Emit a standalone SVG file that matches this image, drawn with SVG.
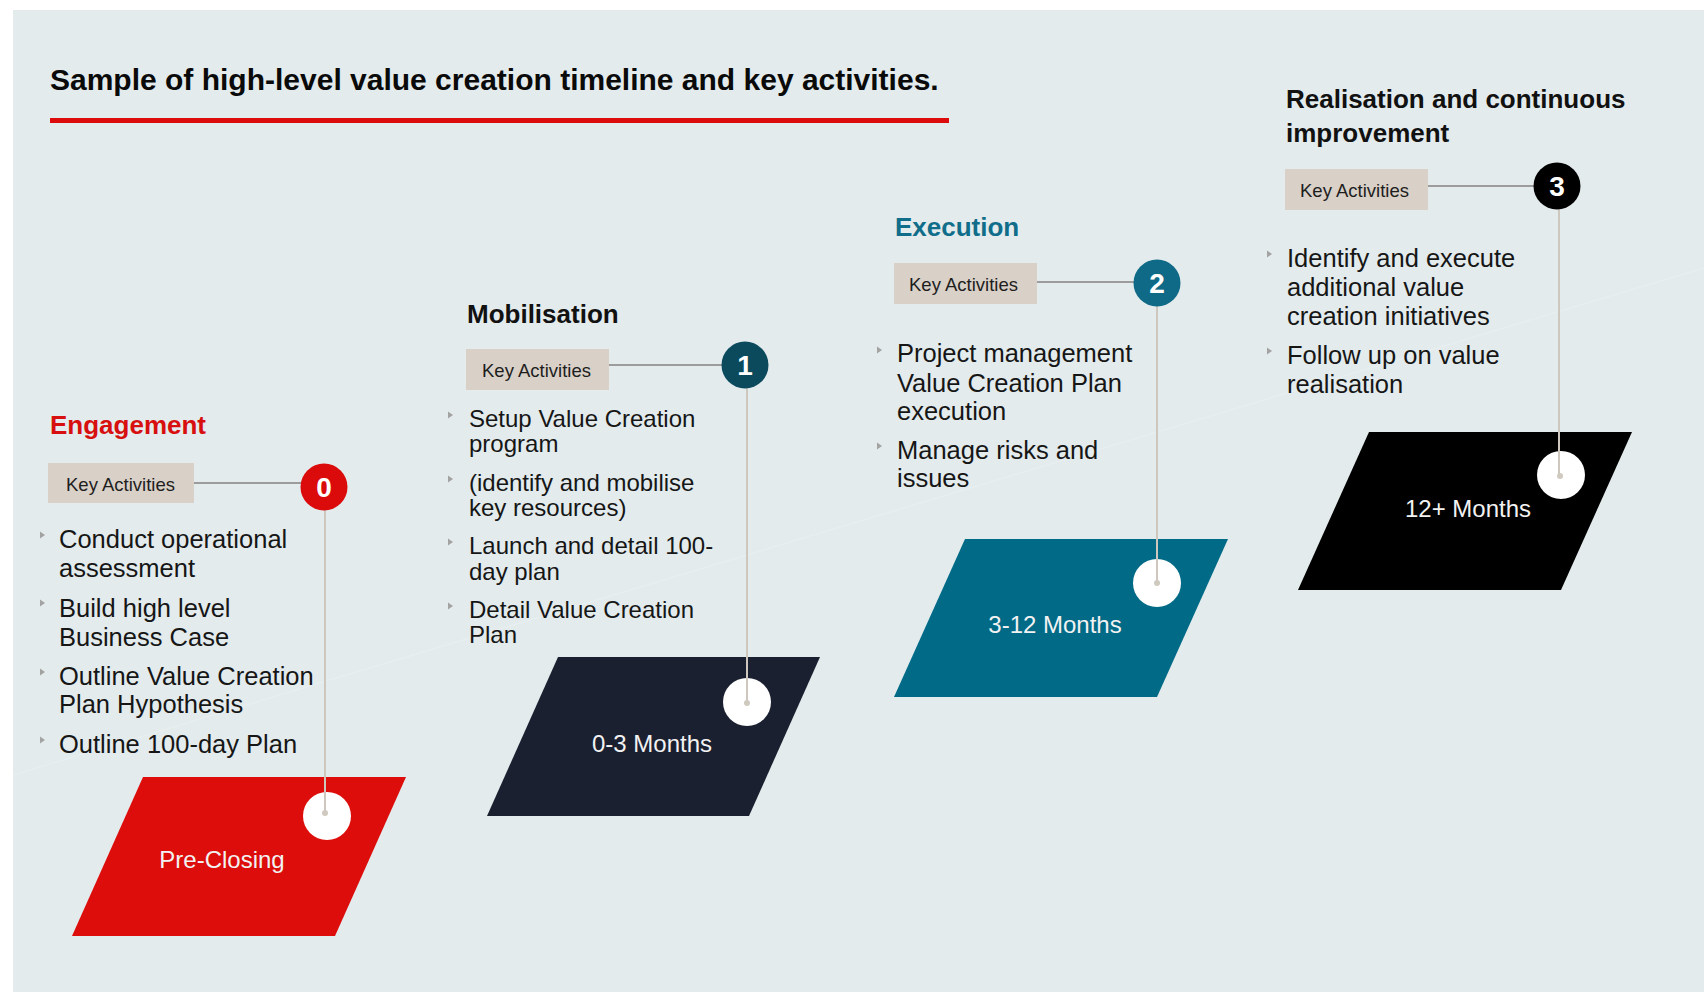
<svg xmlns="http://www.w3.org/2000/svg" width="1704" height="992" viewBox="0 0 1704 992">
  <defs>
    <style>
      .title { font-family: "Liberation Sans", Arial, sans-serif; font-weight: bold; font-size: 30px; fill: #0a0a0a; }
      .head { font-family: "Liberation Sans", Arial, sans-serif; font-weight: bold; font-size: 26px; }
      .ka-box { fill: #d9d1c7; }
      .ka-text { font-family: "Liberation Sans", Arial, sans-serif; font-size: 18.5px; fill: #1e1e1e; }
      .bullet { font-family: "Liberation Sans", Arial, sans-serif; font-size: 25.5px; fill: #161616; }
      .bullet.tight { font-size: 24px; }
      .mark { fill: #a3a3a3; }
      .num { font-family: "Liberation Sans", Arial, sans-serif; font-weight: bold; font-size: 28px; fill: #ffffff; text-anchor: middle; }
      .period { font-family: "Liberation Sans", Arial, sans-serif; font-size: 24px; fill: #f2f2f2; text-anchor: middle; }
      .link { stroke: #9c9c9c; stroke-width: 2; fill: none; }
      .drop { stroke: #cdc7bd; stroke-width: 2; fill: none; }
      .pin { fill: #ffffff; }
      .pin-dot { fill: #cfc9bf; }
    </style>
    <path id="tri" d="M0,-3.5 L5,0 L0,3.5 Z"/>
  </defs>

  <!-- page panel -->
  <rect x="0" y="0" width="1704" height="992" fill="#ffffff"/>
  <rect x="13" y="10" width="1691" height="982" fill="#e3ebed"/>
  <line x1="13" y1="775" x2="1704" y2="268" stroke="#e8eff0" stroke-width="1.2"/>

  <!-- heading -->
  <g id="header">
    <text class="title" x="50" y="90">Sample of high-level value creation timeline and key activities.</text>
    <rect x="50" y="118" width="899" height="5" fill="#dc0c0c"/>
  </g>

  <!-- connectors: key-activity links to the numbered markers -->
  <g id="connectors">
    <line class="link" x1="194" y1="483" x2="304" y2="483"/>
    <line class="link" x1="609" y1="365" x2="725" y2="365"/>
    <line class="link" x1="1037" y1="282" x2="1137" y2="282"/>
    <line class="link" x1="1428" y1="186" x2="1537" y2="186"/>
  </g>

  <!-- stage 0 -->
  <g id="stage-engagement">
    <text class="head" x="50" y="434" fill="#d70f0f">Engagement</text>
    <rect class="ka-box" x="48" y="463" width="146" height="40"/>
    <text class="ka-text" x="66" y="491">Key Activities</text>
    <use href="#tri" class="mark" x="40" y="535"/>
    <text class="bullet" x="59" y="548">Conduct operational</text>
    <text class="bullet" x="59" y="577">assessment</text>
    <use href="#tri" class="mark" x="40" y="603"/>
    <text class="bullet" x="59" y="617">Build high level</text>
    <text class="bullet" x="59" y="646">Business Case</text>
    <use href="#tri" class="mark" x="40" y="672"/>
    <text class="bullet" x="59" y="685">Outline Value Creation</text>
    <text class="bullet" x="59" y="713">Plan Hypothesis</text>
    <use href="#tri" class="mark" x="40" y="740"/>
    <text class="bullet" x="59" y="753">Outline 100-day Plan</text>
    <polygon points="143,777 406,777 335,936 72,936" fill="#dc0d0a"/>
    <circle class="pin" cx="327" cy="816" r="24"/>
    <line class="drop" x1="325" y1="510" x2="325" y2="813"/>
    <circle class="pin-dot" cx="325" cy="813" r="3"/>
    <circle cx="324" cy="487" r="23.5" fill="#db0b0b"/>
    <text class="num" x="324" y="497">0</text>
    <text class="period" x="222" y="868">Pre-Closing</text>
  </g>

  <!-- stage 1 -->
  <g id="stage-mobilisation">
    <text class="head" x="467" y="323" fill="#111111">Mobilisation</text>
    <rect class="ka-box" x="466" y="349" width="143" height="41"/>
    <text class="ka-text" x="482" y="377">Key Activities</text>
    <use href="#tri" class="mark" x="448" y="415"/>
    <text class="bullet tight" x="469" y="427">Setup Value Creation</text>
    <text class="bullet tight" x="469" y="452">program</text>
    <use href="#tri" class="mark" x="448" y="479"/>
    <text class="bullet tight" x="469" y="491">(identify and mobilise</text>
    <text class="bullet tight" x="469" y="516">key resources)</text>
    <use href="#tri" class="mark" x="448" y="542"/>
    <text class="bullet tight" x="469" y="554">Launch and detail 100-</text>
    <text class="bullet tight" x="469" y="580">day plan</text>
    <use href="#tri" class="mark" x="448" y="606"/>
    <text class="bullet tight" x="469" y="618">Detail Value Creation</text>
    <text class="bullet tight" x="469" y="643">Plan</text>
    <polygon points="558,657 820,657 749,816 487,816" fill="#1b2030"/>
    <circle class="pin" cx="747" cy="702" r="24"/>
    <line class="drop" x1="747" y1="388" x2="747" y2="703"/>
    <circle class="pin-dot" cx="747" cy="703" r="3"/>
    <circle cx="745" cy="365" r="23.5" fill="#0b4a5d"/>
    <text class="num" x="745" y="375">1</text>
    <text class="period" x="652" y="752">0-3 Months</text>
  </g>

  <!-- stage 2 -->
  <g id="stage-execution">
    <text class="head" x="895" y="236" fill="#116e8a">Execution</text>
    <rect class="ka-box" x="894" y="263" width="143" height="41"/>
    <text class="ka-text" x="909" y="291">Key Activities</text>
    <use href="#tri" class="mark" x="877" y="350"/>
    <text class="bullet" x="897" y="362">Project management</text>
    <text class="bullet" x="897" y="392">Value Creation Plan</text>
    <text class="bullet" x="897" y="420">execution</text>
    <use href="#tri" class="mark" x="877" y="446"/>
    <text class="bullet" x="897" y="459">Manage risks and</text>
    <text class="bullet" x="897" y="487">issues</text>
    <polygon points="965,539 1228,539 1157,697 894,697" fill="#006a87"/>
    <circle class="pin" cx="1157" cy="583" r="24"/>
    <line class="drop" x1="1157" y1="306" x2="1157" y2="583"/>
    <circle class="pin-dot" cx="1157" cy="583" r="3"/>
    <circle cx="1157" cy="283" r="23.5" fill="#0f6a87"/>
    <text class="num" x="1157" y="293">2</text>
    <text class="period" x="1055" y="633">3-12 Months</text>
  </g>

  <!-- stage 3 -->
  <g id="stage-realisation">
    <text class="head" x="1286" y="108" fill="#111111">Realisation and continuous</text>
    <text class="head" x="1286" y="142" fill="#111111">improvement</text>
    <rect class="ka-box" x="1285" y="169" width="143" height="41"/>
    <text class="ka-text" x="1300" y="197">Key Activities</text>
    <use href="#tri" class="mark" x="1267" y="254"/>
    <text class="bullet" x="1287" y="267">Identify and execute</text>
    <text class="bullet" x="1287" y="296">additional value</text>
    <text class="bullet" x="1287" y="325">creation initiatives</text>
    <use href="#tri" class="mark" x="1267" y="351"/>
    <text class="bullet" x="1287" y="364">Follow up on value</text>
    <text class="bullet" x="1287" y="393">realisation</text>
    <polygon points="1369,432 1632,432 1561,590 1298,590" fill="#000000"/>
    <circle class="pin" cx="1561" cy="475" r="24"/>
    <line class="drop" x1="1559" y1="209" x2="1559" y2="476"/>
    <circle class="pin-dot" cx="1560" cy="476" r="3"/>
    <circle cx="1557" cy="186" r="23.5" fill="#000000"/>
    <text class="num" x="1557" y="196">3</text>
    <text class="period" x="1468" y="517">12+ Months</text>
  </g>
</svg>
